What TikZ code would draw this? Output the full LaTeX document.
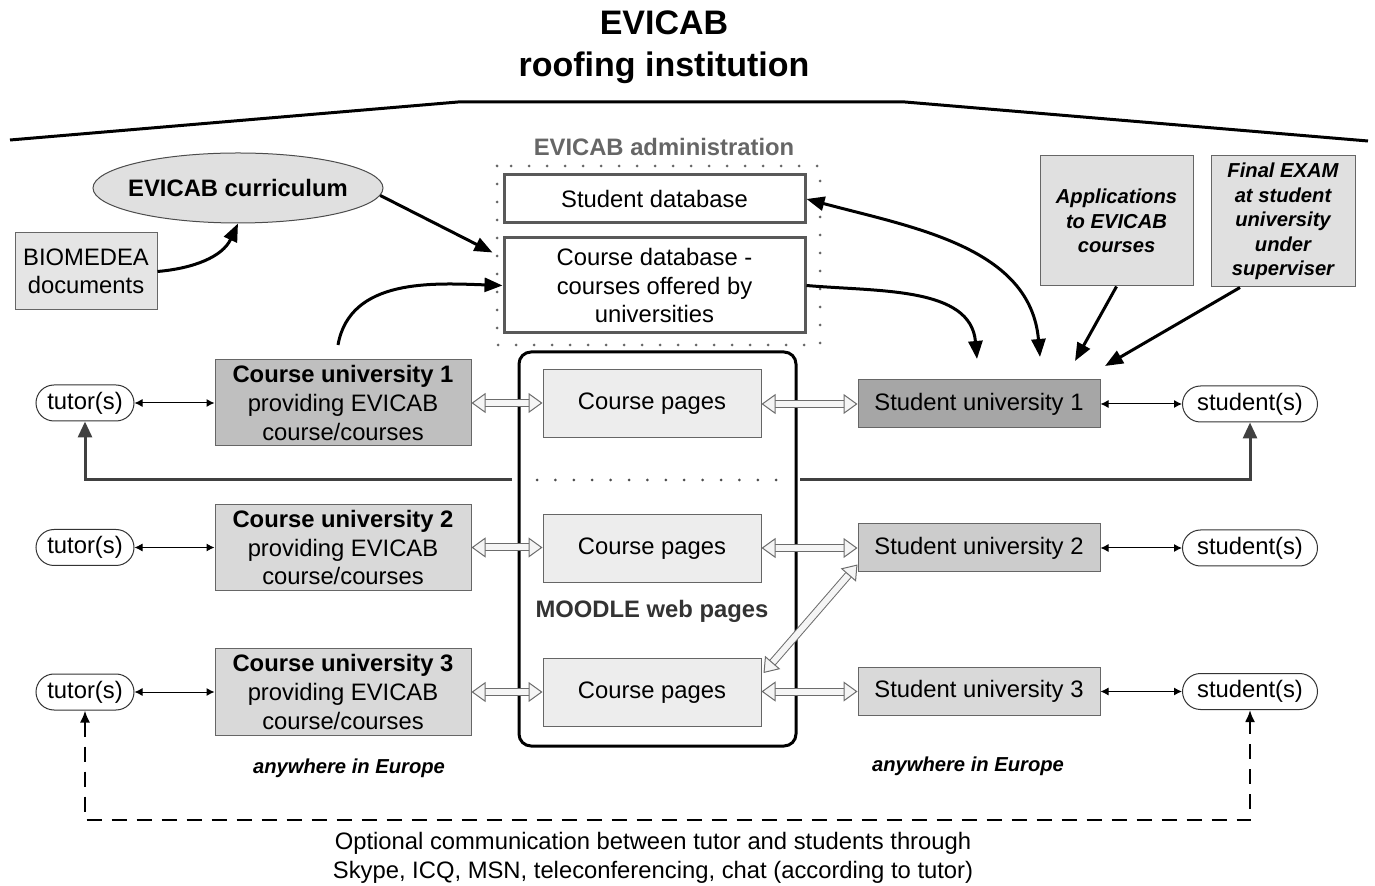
\documentclass[tikz,border=0pt]{standalone}
\usepackage{fontspec}
\setmainfont{Liberation Sans}
\usetikzlibrary{arrows.meta,shapes.geometric,calc,fit}
\begin{document}
\begin{tikzpicture}[x=0.5pt,y=-0.5pt,
  every node/.style={font=\fontsize{11.9}{14.3}\selectfont, align=center, inner sep=0pt},
  box/.style={draw=gray!80!black, line width=0.5pt, rectangle},
  dbbox/.style={draw=black!65, line width=1.5pt, fill=white, minimum width=150.5pt},
  cu/.style={box, minimum width=128pt, minimum height=43pt},
  cp/.style={box, fill=black!7, minimum width=109pt, minimum height=34pt},
  su/.style={box, minimum width=121pt, minimum height=24pt},
  pill/.style={draw=black!80, line width=0.5pt, rounded corners=9pt, minimum height=18pt},
  note/.style={box, fill=black!12, font=\fontsize{10.1}{12.3}\selectfont\bfseries\itshape},
  bigarrow/.style={line width=1.5pt, -{Triangle[length=9pt,width=7pt]}},
  thinarrow/.style={line width=0.5pt, {Latex[length=4pt,width=4pt]}-{Latex[length=4pt,width=4pt]}},
  hollow/.style={draw=gray!85!black, line width=0.5pt, double=black!4, double distance=3pt,
     {Triangle[open,fill=black!4,length=7pt,width=10pt]}-{Triangle[open,fill=black!4,length=7pt,width=10pt]}},
  feed/.style={draw=black!75, line width=1.5pt},
]
\useasboundingbox (0,0) rectangle (1375,886);

% title
\node[font=\fontsize{17}{20}\selectfont\bfseries] (t1) at (664,23) {EVICAB};
\node[font=\fontsize{17}{20}\selectfont\bfseries] (t2) at (664,68) {roofing institution};
\draw[line width=1.5pt] (10,140) -- (458,102) -- (905,102) -- (1368,141);

% administration
\node[text=black!60, font=\fontsize{11.9}{14}\selectfont\bfseries] (admt) at (664,147) {EVICAB administration};
\node[dbbox, minimum height=24pt] (sdb) at (654.5,199) {Student database};
\node[dbbox, minimum height=47.5pt] (cdb) at (654.5,285.5) {Course database -\\courses offered by\\universities};
\draw[black!60, line width=1.5pt, line cap=round, dash pattern=on 0pt off 9pt] (497,166) rectangle (820,345);

% curriculum
\node[draw=black!70, line width=0.5pt, fill=black!12, ellipse, inner xsep=-4pt, minimum width=145pt, minimum height=35pt, font=\fontsize{11.9}{14}\selectfont\bfseries] (curr) at (238,188) {EVICAB curriculum};
\node[box, fill=black!10, minimum width=71pt, minimum height=38.5pt] (bio) at (86,271.5) {BIOMEDEA\\documents};

% notes
\node[note, minimum width=76.5pt, minimum height=65pt] (app) at (1116.5,221) {Applications\\to EVICAB\\courses};
\node[note, minimum width=72pt, minimum height=65.5pt] (exam) at (1283,221.5) {Final EXAM\\at student\\university\\under\\superviser};

% moodle
\node[draw=black, line width=1.5pt, rounded corners=6pt, minimum width=138.5pt, minimum height=197pt] (moodle) at (657.5,549) {};
\node[text=black!80, font=\fontsize{11.9}{14}\selectfont\bfseries] (mt) at (652,611) {MOODLE web pages};
\node[cp] (cp1) at (652,404) {Course pages};
\node[cp] (cp2) at (652,548.5) {Course pages};
\node[cp] (cp3) at (652,692.5) {Course pages};

% course universities
\node[cu, fill=black!25] (cu1) at (343,403) {\textbf{Course university 1}\\providing EVICAB\\course/courses};
\node[cu, fill=black!15] (cu2) at (343,547.5) {\textbf{Course university 2}\\providing EVICAB\\course/courses};
\node[cu, fill=black!15] (cu3) at (343,692) {\textbf{Course university 3}\\providing EVICAB\\course/courses};

% tutors
\node[pill, minimum width=49pt] (tut1) at (85,403) {tutor(s)};
\node[pill, minimum width=49pt] (tut2) at (85,547.5) {tutor(s)};
\node[pill, minimum width=49pt] (tut3) at (85,692) {tutor(s)};

% student universities
\node[su, fill=black!35] (su1) at (979,404) {Student university 1};
\node[su, fill=black!20] (su2) at (979,548) {Student university 2};
\node[su, fill=black!15] (su3) at (979,691.5) {Student university 3};

% students
\node[pill, minimum width=67.5pt] (st1) at (1250,404) {student(s)};
\node[pill, minimum width=67.5pt] (st2) at (1250,548) {student(s)};
\node[pill, minimum width=67.5pt] (st3) at (1250,691.5) {student(s)};

% europe labels
\node[font=\fontsize{10.1}{12}\selectfont\bfseries\itshape] (eu1) at (349,768) {anywhere in Europe};
\node[font=\fontsize{10.1}{12}\selectfont\bfseries\itshape] (eu2) at (968,766) {anywhere in Europe};

% bottom text
\node (bt) at (653,858) {Optional communication between tutor and students through\\Skype, ICQ, MSN, teleconferencing, chat (according to tutor)};

% thin and hollow arrows
\foreach \i in {1,2,3}{
  \draw[thinarrow] (tut\i.east) -- (cu\i.west);
  \draw[thinarrow] (su\i.east) -- (st\i.west);
  \draw[hollow] (cu\i.east) -- (cp\i.west |- cu\i.east);
  \draw[hollow] (cp\i.east |- su\i.west) -- (su\i.west);
}
\draw[hollow] ($(cp3.north east)+(2,15)$) -- ($(su2.south west)+(0,-8)$);

% big arrows
\draw[bigarrow] (bio.east) to[out=5,in=-115] (curr.south);
\draw[bigarrow] (curr.-3) -- ($(cdb.north west)+(-10,16)$);
\coordinate (cu1top) at (338,345);
\draw[bigarrow] (cu1top) to[out=80,in=178] (cdb.west);
\coordinate (su1a) at (977,359);
\draw[bigarrow] (cdb.east) to[out=-5,in=95] (su1a);
\coordinate (su1b) at (1040,357);
\draw[line width=1.5pt, {Triangle[length=9pt,width=7pt]}-{Triangle[length=9pt,width=7pt]}] (sdb.east) to[out=-15,in=95] (su1b);
\coordinate (su1c) at (1075,361);
\draw[bigarrow] (app.south) -- (su1c);
\coordinate (su1d) at (1105,366);
\draw[bigarrow] ($(exam.south)+(-43,0)$) -- (su1d);

% feedback lines
\coordinate (gl) at (512,480);
\coordinate (gr) at (800,480);
\draw[feed, -{Triangle[length=8pt,width=7pt]}] (gl) -| (tut1.south);
\draw[feed, -{Triangle[length=8pt,width=7pt]}] (gr) -| (st1.south);
\draw[black!70, line width=1.5pt, line cap=round, dash pattern=on 0pt off 9.2pt] (537,480) -- (780,480);

% dashed optional communication
\coordinate (dm) at (0,820);
\draw[line width=1pt, dash pattern=on 7.5pt off 5pt, {Latex[length=6pt,width=5pt]}-{Latex[length=6pt,width=5pt]}] (tut3.south) -- (tut3.south |- dm) -| (st3.south);
\end{tikzpicture}
\end{document}
